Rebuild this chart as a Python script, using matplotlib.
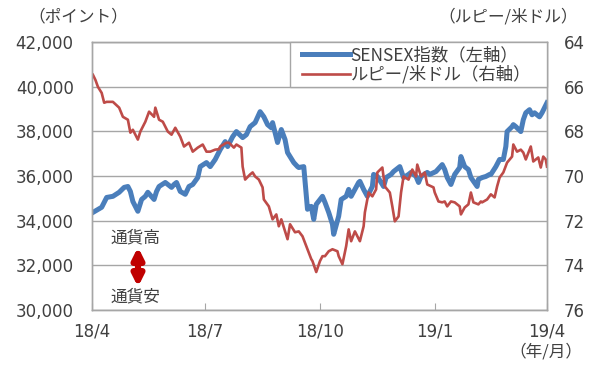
import matplotlib
matplotlib.use("Agg")
import matplotlib.pyplot as plt
import matplotlib.ticker as mticker
from matplotlib.patches import Rectangle
import pandas as pd

plt.rcParams['font.family'] = ['Noto Sans CJK JP', 'DejaVu Sans']

# SENSEX index (left axis)
sensex_dates = [
    "2018-04-02", "2018-04-09", "2018-04-13", "2018-04-18", "2018-04-23", "2018-04-27",
    "2018-04-30", "2018-05-02", "2018-05-04", "2018-05-08", "2018-05-11", "2018-05-14",
    "2018-05-16", "2018-05-21", "2018-05-23", "2018-05-25", "2018-05-30", "2018-06-04",
    "2018-06-06", "2018-06-08", "2018-06-11", "2018-06-15", "2018-06-18", "2018-06-21",
    "2018-06-25", "2018-06-27", "2018-07-02", "2018-07-05", "2018-07-09", "2018-07-13",
    "2018-07-17", "2018-07-19", "2018-07-23", "2018-07-26", "2018-07-31", "2018-08-03",
    "2018-08-06", "2018-08-10", "2018-08-14", "2018-08-17", "2018-08-20", "2018-08-23",
    "2018-08-24", "2018-08-28", "2018-08-31", "2018-09-03", "2018-09-05", "2018-09-10",
    "2018-09-13", "2018-09-14", "2018-09-18", "2018-09-21", "2018-09-24", "2018-09-26",
    "2018-09-28", "2018-10-03", "2018-10-05", "2018-10-08", "2018-10-11", "2018-10-12",
    "2018-10-16", "2018-10-18", "2018-10-22", "2018-10-24", "2018-10-26", "2018-10-29",
    "2018-11-01", "2018-11-02", "2018-11-05", "2018-11-08", "2018-11-12", "2018-11-13",
    "2018-11-16", "2018-11-19", "2018-11-21", "2018-11-23", "2018-11-27", "2018-11-29",
    "2018-12-04", "2018-12-07", "2018-12-11", "2018-12-13", "2018-12-17", "2018-12-19",
    "2018-12-21", "2018-12-26", "2018-12-28", "2019-01-02", "2019-01-07", "2019-01-09",
    "2019-01-11", "2019-01-14", "2019-01-17", "2019-01-21", "2019-01-22", "2019-01-25",
    "2019-01-28", "2019-01-30", "2019-02-04", "2019-02-05", "2019-02-08", "2019-02-11",
    "2019-02-14", "2019-02-15", "2019-02-19", "2019-02-22", "2019-02-25", "2019-02-27",
    "2019-02-28", "2019-03-04", "2019-03-05", "2019-03-07", "2019-03-11", "2019-03-13",
    "2019-03-15", "2019-03-18", "2019-03-20", "2019-03-22", "2019-03-26", "2019-03-28",
    "2019-04-01",
]
sensex_vals = [
    34370, 34600, 35040, 35090, 35270, 35490,
    35530, 35310, 34860, 34420, 34950, 35090,
    35270, 34950, 35310, 35530, 35710, 35490,
    35620, 35710, 35310, 35180, 35530, 35620,
    35930, 36420, 36600, 36420, 36740, 37180,
    37540, 37320, 37760, 37990, 37720, 37850,
    38210, 38390, 38880, 38650, 38300, 38160,
    38390, 37500, 38080, 37630, 37050, 36600,
    36420, 36380, 36420, 34510, 34640, 34060,
    34730, 35090, 34820, 34370, 33840, 33390,
    34200, 34950, 35090, 35400, 35090, 35400,
    35710, 35760, 35400, 35090, 35530, 36070,
    35980, 35710, 35530, 35930, 36070, 36200,
    36420, 35930, 36070, 36160, 35980, 35710,
    35980, 36160, 36070, 36200, 36510, 36290,
    35930, 35620, 36070, 36380, 36870, 36420,
    36290, 35930, 35530, 35850, 35930, 35980,
    36070, 36070, 36420, 36740, 36740, 37320,
    37990, 38210, 38300, 38210, 37990, 38520,
    38830, 38970, 38740, 38830, 38650, 38830,
    39280,
]

# Rupee per US dollar (right axis, inverted)
inr_dates = [
    "2018-04-02", "2018-04-04", "2018-04-06", "2018-04-09", "2018-04-11", "2018-04-13",
    "2018-04-18", "2018-04-23", "2018-04-26", "2018-04-30", "2018-05-02", "2018-05-04",
    "2018-05-08", "2018-05-10", "2018-05-14", "2018-05-17", "2018-05-21", "2018-05-22",
    "2018-05-25", "2018-05-28", "2018-06-01", "2018-06-04", "2018-06-07", "2018-06-11",
    "2018-06-14", "2018-06-18", "2018-06-21", "2018-06-25", "2018-06-29", "2018-07-02",
    "2018-07-05", "2018-07-09", "2018-07-12", "2018-07-13", "2018-07-18", "2018-07-20",
    "2018-07-24", "2018-07-26", "2018-07-30", "2018-07-31", "2018-08-02", "2018-08-06",
    "2018-08-08", "2018-08-10", "2018-08-13", "2018-08-16", "2018-08-17", "2018-08-21",
    "2018-08-24", "2018-08-27", "2018-08-29", "2018-08-31", "2018-09-05", "2018-09-07",
    "2018-09-11", "2018-09-14", "2018-09-17", "2018-09-20", "2018-09-24", "2018-09-25",
    "2018-09-28", "2018-10-01", "2018-10-03", "2018-10-05", "2018-10-08", "2018-10-11",
    "2018-10-15", "2018-10-16", "2018-10-19", "2018-10-22", "2018-10-24", "2018-10-26",
    "2018-10-29", "2018-11-02", "2018-11-05", "2018-11-06", "2018-11-09", "2018-11-12",
    "2018-11-15", "2018-11-16", "2018-11-20", "2018-11-22", "2018-11-26", "2018-11-28",
    "2018-11-30", "2018-12-03", "2018-12-05", "2018-12-07", "2018-12-11", "2018-12-14",
    "2018-12-17", "2018-12-18", "2018-12-21", "2018-12-24", "2018-12-26", "2018-12-31",
    "2019-01-01", "2019-01-04", "2019-01-07", "2019-01-09", "2019-01-11", "2019-01-14",
    "2019-01-17", "2019-01-21", "2019-01-22", "2019-01-25", "2019-01-28", "2019-01-30",
    "2019-02-01", "2019-02-05", "2019-02-07", "2019-02-08", "2019-02-12", "2019-02-15",
    "2019-02-18", "2019-02-20", "2019-02-22", "2019-02-25", "2019-02-28", "2019-03-04",
    "2019-03-05", "2019-03-08", "2019-03-11", "2019-03-13", "2019-03-15", "2019-03-19",
    "2019-03-21", "2019-03-25", "2019-03-27", "2019-03-29", "2019-03-31", "2019-04-01",
]
inr_vals = [
    65.47, 65.70, 66.01, 66.28, 66.72, 66.68,
    66.68, 66.94, 67.35, 67.48, 68.06, 67.93,
    68.37, 68.01, 67.57, 67.12, 67.35, 66.94,
    67.48, 67.57, 68.01, 68.15, 67.84, 68.24,
    68.68, 68.51, 68.91, 68.73, 68.59, 68.91,
    68.91, 68.82, 68.80, 68.68, 68.51, 68.51,
    68.73, 68.59, 68.73, 69.58, 70.16, 69.93,
    69.84, 70.02, 70.16, 70.51, 71.05, 71.36,
    71.94, 71.72, 72.25, 71.94, 72.83, 72.16,
    72.52, 72.48, 72.70, 73.14, 73.72, 73.81,
    74.30, 73.81, 73.59, 73.59, 73.37, 73.28,
    73.37, 73.59, 73.95, 73.14, 72.39, 72.92,
    72.48, 72.92, 72.25, 71.63, 70.74, 70.91,
    70.60, 69.84, 69.62, 70.47, 70.74, 71.36,
    72.03, 71.81, 70.74, 70.02, 70.16, 69.71,
    70.02, 69.49, 70.02, 69.84, 70.38, 70.51,
    70.74, 71.14, 71.18, 71.14, 71.36, 71.14,
    71.18, 71.36, 71.72, 71.41, 71.27, 70.74,
    71.18, 71.27, 71.14, 71.18, 71.05, 70.82,
    70.96, 70.47, 70.07, 69.84, 69.40, 69.13,
    68.59, 68.91, 68.82, 68.95, 69.26, 68.68,
    69.35, 69.17, 69.62, 69.13, 69.26, 69.58,
]

x_ticks = ["2018-04-01", "2018-07-01", "2018-10-01", "2019-01-01", "2019-04-01"]
x_labels = ["18/4", "18/7", "18/10", "19/1", "19/4"]

txt = '#404040'
grid_c = '#a6a6a6'
blue = '#4a7ebb'
red = '#be4b48'
num_font = ['DejaVu Sans', 'Noto Sans CJK JP']

fig = plt.figure(figsize=(5.94, 3.70), dpi=100)
ax1 = fig.add_axes([91.7 / 594, 1 - 310 / 370, (547 - 91.7) / 594, (310 - 42) / 370])
ax2 = ax1.twinx()

l1, = ax1.plot(pd.to_datetime(sensex_dates), sensex_vals, color=blue, lw=3.6,
               solid_joinstyle='round', label='SENSEX指数（左軸）')
l2, = ax2.plot(pd.to_datetime(inr_dates), inr_vals, color=red, lw=1.9,
               solid_joinstyle='round', label='ルピー/米ドル（右軸）')

ax1.set_ylim(30000, 42000)
ax1.set_yticks(range(30000, 42001, 2000))
ax1.yaxis.set_major_formatter(mticker.StrMethodFormatter('{x:,.0f}'))
ax1.grid(axis='y', color=grid_c, lw=1)
ax1.set_axisbelow(True)

ax2.set_ylim(76, 64)
ax2.set_yticks(range(64, 77, 2))

ax1.set_xlim(pd.Timestamp("2018-04-01"), pd.Timestamp("2019-04-01"))
ax1.set_xticks(pd.to_datetime(x_ticks))
ax1.set_xticklabels(x_labels)

ax1.tick_params(axis='y', length=0, pad=13, labelsize=12, labelcolor=txt)
ax2.tick_params(axis='y', length=0, pad=12, labelsize=12, labelcolor=txt)
ax1.tick_params(axis='x', direction='in', length=5, color=grid_c, pad=9,
                labelsize=12, labelcolor=txt)
for lab in ax1.get_xticklabels() + ax1.get_yticklabels() + ax2.get_yticklabels():
    lab.set_family(num_font)

for ax in (ax1, ax2):
    for s in ax.spines.values():
        s.set_color(grid_c)
        s.set_linewidth(1)

# legend box drawn by hand so it sits like the reference
box = Rectangle((290 / 594, 1 - 87 / 370), (547 - 290) / 594, 45 / 370,
                transform=fig.transFigure, facecolor='white', edgecolor=grid_c,
                lw=1, zorder=5)
ax2.add_artist(box)
box.set_clip_on(False)
leg = ax2.legend(handles=[l1, l2], loc='upper left',
                 bbox_to_anchor=(302 / 594, 1 - 46 / 370),
                 bbox_transform=fig.transFigure, borderaxespad=0, borderpad=0,
                 frameon=False, fontsize=12.5, handlelength=2.75, handletextpad=0.05,
                 labelspacing=0.08)
leg.set_zorder(6)
for t in leg.get_texts():
    t.set_color(txt)

fig.text(78 / 594, 1 - 17 / 370, '（ポイント）', fontsize=12, color=txt,
         ha='center', va='center')
fig.text(508 / 594, 1 - 17 / 370, '（ルピー/米ドル）', fontsize=12, color=txt,
         ha='center', va='center')
fig.text(546 / 594, 1 - 352 / 370, '（年/月）', fontsize=12, color=txt,
         ha='center', va='center')

# currency strength annotation
ax1.annotate('', xy=(138 / 594, 1 - 287 / 370), xytext=(138 / 594, 1 - 247 / 370),
             xycoords='figure fraction', textcoords='figure fraction',
             arrowprops=dict(arrowstyle='<|-|>', color='#c00000', lw=4.5,
                             mutation_scale=16, shrinkA=0, shrinkB=0))
fig.text(135 / 594, 1 - 238 / 370, '通貨高', fontsize=12, color=txt,
         ha='center', va='center')
fig.text(135 / 594, 1 - 297 / 370, '通貨安', fontsize=12, color=txt,
         ha='center', va='center')

fig.savefig('out.png', dpi=100)
